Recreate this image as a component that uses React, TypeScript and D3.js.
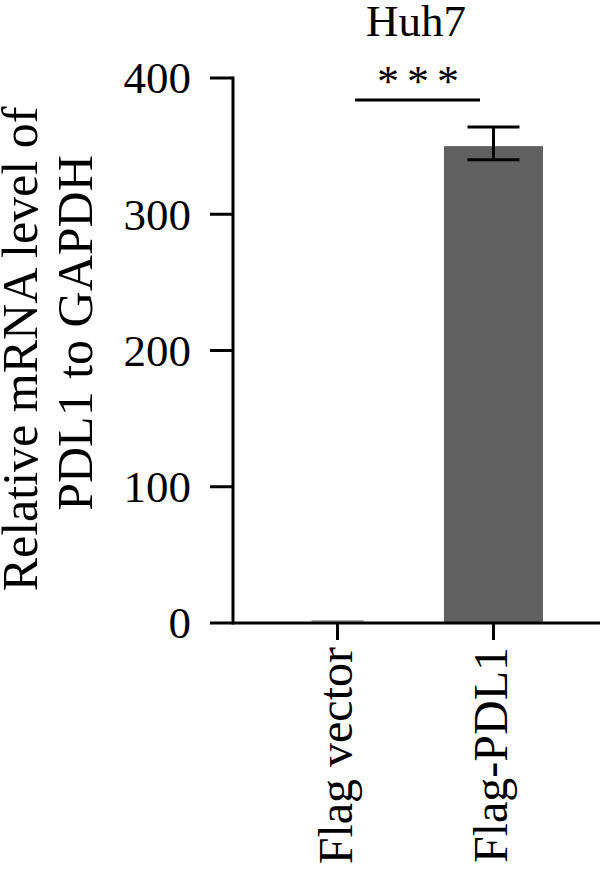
import React from "react";
import * as d3 from "d3";

const categories = ["Flag vector", "Flag-PDL1"];
const means = [1, 350];
const errLow = [1, 340];
const errHigh = [1, 364];
const barColors = ["#ffffff", "#606060"];
const errColors = ["#aaaaaa", "#000000"];
const yTicks = [0, 100, 200, 300, 400];
const title = "Huh7";
const sigStars = ["*", "*", "*"];

export default function App() {
  const W = 600, H = 870;
  const x0 = 233, x1 = 600, yTop = 78, yBot = 623;
  const y = d3.scaleLinear().domain([0, 400]).range([yBot, yTop]);
  const x = d3.scaleBand().domain(categories).range([288, 543]).paddingInner(0.365).paddingOuter(0);
  const bw = x.bandwidth();
  const font = "'Liberation Serif', 'DejaVu Serif', serif";
  const cx = (c: string) => (x(c) as number) + bw / 2;
  const capW = 52;
  const sigX = d3.scaleLinear().domain([0, 2]).range([388, 448]);
  return (
    <svg width={W} height={H} style={{ position: "absolute", left: 0, top: 0 }} fontFamily={font}>
      <rect width={W} height={H} fill="#fff" />
      <text x={416} y={36} fontSize={45} textAnchor="middle">{title}</text>
      {categories.map((c, i) => (
        <g key={c}>
          <rect x={x(c)} y={y(means[i])} width={bw} height={yBot - y(means[i])} fill={barColors[i]} />
          <line x1={cx(c)} x2={cx(c)} y1={y(errHigh[i])} y2={y(errLow[i])} stroke={errColors[i]} strokeWidth={3} />
          <line x1={cx(c) - capW / 2} x2={cx(c) + capW / 2} y1={y(errHigh[i])} y2={y(errHigh[i])} stroke={errColors[i]} strokeWidth={3} />
          <line x1={cx(c) - capW / 2} x2={cx(c) + capW / 2} y1={y(errLow[i])} y2={y(errLow[i])} stroke={errColors[i]} strokeWidth={3} />
        </g>
      ))}
      {/* y axis */}
      <line x1={x0} x2={x0} y1={yTop - 1.5} y2={yBot + 1.5} stroke="#000" strokeWidth={3} />
      {yTicks.map(t => (
        <g key={t}>
          <line x1={x0 - 23} x2={x0} y1={y(t)} y2={y(t)} stroke="#000" strokeWidth={3} />
          <text x={191} y={y(t)} dy="0.34em" fontSize={45} textAnchor="end">{t}</text>
        </g>
      ))}
      {/* x axis */}
      <line x1={x0} x2={x1} y1={yBot} y2={yBot} stroke="#000" strokeWidth={3} />
      {categories.map(c => (
        <g key={c}>
          <line x1={cx(c)} x2={cx(c)} y1={yBot} y2={yBot + 17} stroke="#000" strokeWidth={3} />
          <text transform={`translate(${cx(c) + 14},${647}) rotate(-90)`} fontSize={48} textAnchor="end">{c}</text>
        </g>
      ))}
      {/* y label */}
      <text transform={`translate(37,349) rotate(-90)`} fontSize={50} textAnchor="middle">Relative mRNA level of</text>
      <text transform={`translate(92,333) rotate(-90)`} fontSize={50} textAnchor="middle">PDL1 to GAPDH</text>
      {/* significance */}
      <line x1={355} x2={480} y1={100} y2={100} stroke="#000" strokeWidth={3} />
      {sigStars.map((s, i) => (
        <text key={i} x={sigX(i)} y={96} fontSize={44} textAnchor="middle">{s}</text>
      ))}
    </svg>
  );
}
